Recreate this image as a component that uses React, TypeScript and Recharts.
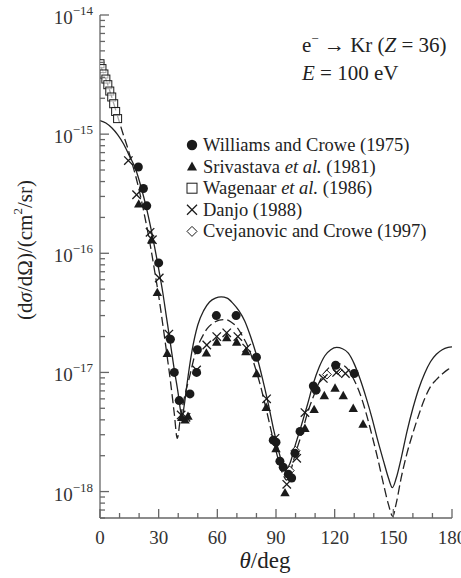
import React from 'react';
import { ComposedChart, Line, Scatter, XAxis, YAxis } from 'recharts';

// theory curves, theta in deg, cross section in cm^2/sr
const solidTheta = [0, 3, 6, 9, 12, 15, 18, 21, 24, 27, 30, 32, 34, 36, 38, 40, 41, 42, 43, 44.5, 47, 50, 53, 56, 59, 62, 65, 68, 71, 74, 77, 80, 83, 86, 89, 92, 94.5, 97, 100, 103, 106, 109, 112, 115, 118, 121, 124, 127, 130, 133, 136, 139, 142, 145, 147.5, 149.5, 151.5, 154, 157, 160, 163, 166, 169, 172, 175, 178, 180];
const solidValues = [1.3e-15, 1.24e-15, 1.13e-15, 9.9e-16, 8.3e-16, 6.6e-16, 5.2e-16, 3.6e-16, 2.3e-16, 1.35e-16, 7.4e-17, 4.8e-17, 2.9e-17, 1.75e-17, 1.05e-17, 6.6e-18, 5.0e-18, 4.2e-18, 5.2e-18, 8.0e-18, 1.5e-17, 2.5e-17, 3.3e-17, 3.9e-17, 4.2e-17, 4.3e-17, 4.2e-17, 3.8e-17, 3.3e-17, 2.7e-17, 2.0e-17, 1.4e-17, 9.0e-18, 5.5e-18, 3.2e-18, 2.0e-18, 1.5e-18, 1.7e-18, 2.5e-18, 3.6e-18, 5.3e-18, 8.0e-18, 1.1e-17, 1.38e-17, 1.55e-17, 1.62e-17, 1.58e-17, 1.45e-17, 1.18e-17, 8.8e-18, 6.2e-18, 4.2e-18, 2.7e-18, 1.8e-18, 1.3e-18, 1.08e-18, 1.3e-18, 1.9e-18, 3.2e-18, 5.0e-18, 7.3e-18, 9.8e-18, 1.23e-17, 1.42e-17, 1.55e-17, 1.62e-17, 1.64e-17];

const dashedTheta = [0, 2, 4, 6, 8, 10, 12, 14, 16, 18, 20, 22, 24, 26, 28, 30, 32, 34, 36, 38, 39.5, 41, 43, 46, 49, 52, 55, 58, 61, 64, 67, 70, 73, 76, 79, 82, 85, 88, 91, 93.5, 95.5, 97.5, 100, 103, 106, 109, 112, 115, 118, 121, 124, 127, 130, 133, 136, 139, 142, 145, 147.5, 149.7, 151.5, 154, 157, 160, 163, 166, 169, 172, 175, 178, 180];
const dashedValues = [3.8e-15, 3.2e-15, 2.6e-15, 2.05e-15, 1.6e-15, 1.25e-15, 9.8e-16, 7.8e-16, 6.0e-16, 4.6e-16, 3.4e-16, 2.4e-16, 1.65e-16, 1.1e-16, 7.0e-17, 4.4e-17, 2.6e-17, 1.5e-17, 8.5e-18, 4.5e-18, 2.8e-18, 4.0e-18, 6.0e-18, 9.5e-18, 1.5e-17, 1.95e-17, 2.35e-17, 2.6e-17, 2.75e-17, 2.78e-17, 2.65e-17, 2.4e-17, 2.0e-17, 1.6e-17, 1.15e-17, 7.8e-18, 4.9e-18, 3.0e-18, 1.9e-18, 1.4e-18, 1.25e-18, 1.5e-18, 2.1e-18, 3.0e-18, 4.5e-18, 6.2e-18, 8.2e-18, 1.0e-17, 1.13e-17, 1.19e-17, 1.16e-17, 1.05e-17, 8.6e-18, 6.6e-18, 4.6e-18, 3.0e-18, 1.9e-18, 1.15e-18, 7.8e-19, 6.2e-19, 8.0e-19, 1.3e-18, 2.1e-18, 3.1e-18, 4.4e-18, 6.0e-18, 7.6e-18, 8.7e-18, 9.7e-18, 1.06e-17, 1.1e-17];

// measurements
const williamsTheta = [19.6, 22.2, 23.9, 30, 36, 38, 40.5, 46, 49.4, 49.8, 59.5, 69.6, 80, 88.6, 90, 92, 93.7, 96.3, 98, 99.7, 102.3, 109.1, 110.5, 120.5, 130];
const williamsValues = [5.3e-16, 3.5e-16, 2.5e-16, 8.3e-17, 1.9e-17, 1.0e-17, 5.8e-18, 6.6e-18, 1.0e-17, 1.55e-17, 3.0e-17, 3.0e-17, 1.34e-17, 2.7e-18, 2.6e-18, 1.8e-18, 1.6e-18, 1.4e-18, 1.3e-18, 2.1e-18, 3.2e-18, 7.7e-18, 7.1e-18, 1.15e-17, 9.8e-18];

const srivastavaTheta = [19.8, 26.4, 29.3, 34.4, 41.8, 43.5, 45, 54.4, 59.7, 64.8, 69.9, 74.6, 80.1, 85, 90, 94.6, 104.8, 109.5, 114.7, 120.2, 124.4, 129.5, 134.5];
const srivastavaValues = [2.6e-16, 1.3e-16, 4.7e-17, 1.45e-17, 4.2e-18, 4.0e-18, 4.3e-18, 1.46e-17, 1.8e-17, 1.96e-17, 1.8e-17, 1.5e-17, 9.8e-18, 5.1e-18, 2.3e-18, 9.8e-19, 3.4e-18, 4.9e-18, 6.4e-18, 7.4e-18, 6.4e-18, 5.0e-18, 3.7e-18];

const wagenaarTheta = [0, 1, 2, 3, 4, 5, 6, 7, 8, 9];
const wagenaarValues = [3.9e-15, 3.55e-15, 3.2e-15, 2.9e-15, 2.6e-15, 2.3e-15, 2.05e-15, 1.8e-15, 1.55e-15, 1.35e-15];

const danjoTheta = [14.5, 18.7, 25.6, 26.8, 30.3, 35.2, 41.5, 44, 49.4, 54.6, 59.7, 64.8, 70.5, 75, 85.2, 89.5, 95.5, 100.6, 104.8, 114.2, 121, 125.5];
const danjoValues = [6.0e-16, 3.1e-16, 1.5e-16, 1.3e-16, 6.2e-17, 2.1e-17, 4.4e-18, 4.2e-18, 1.05e-17, 1.7e-17, 2.0e-17, 2.15e-17, 2.0e-17, 1.6e-17, 6.0e-18, 2.8e-18, 1.15e-18, 1.9e-18, 4.6e-18, 8.9e-18, 1.0e-17, 9.8e-18];

const cvejanovicTheta = [97, 100, 110, 116, 121.5];
const cvejanovicValues = [1.5e-18, 2.2e-18, 7.4e-18, 9.6e-18, 1.05e-17];

const xTicks = [0, 10, 20, 30, 40, 50, 60, 70, 80, 90, 100, 110, 120, 130, 140, 150, 160, 170, 180];
const xLabelled = [0, 30, 60, 90, 120, 150, 180];
const yDecades = [-19, -18, -17, -16, -15];
const yMantissas = [1, 2, 3, 4, 5, 6, 7, 8, 9];
const yMin = 6e-19;
const yMax = 1e-14;

const legendItems = ['williams', 'srivastava', 'wagenaar', 'danjo', 'cvejanovic'];

const AXIS = '#666';
const INK = '#1a1a1a';
const FONT = '"Liberation Serif", "DejaVu Serif", serif';

const pairs = (xs: number[], ys: number[]) => xs.map((x, i) => ({ x, y: ys[i] }));

const yTicks: number[] = [];
yDecades.forEach(e => {
  yMantissas.forEach(m => {
    const v = Number(`${m}e${e}`);
    if (v >= yMin && v < yMax) yTicks.push(v);
  });
});
yTicks.push(yMax);

const isDecade = (v: number) => Math.abs(Math.log10(v) - Math.round(Math.log10(v))) < 1e-6;

function BottomTick(props: any) {
  const { x, y, payload } = props;
  const major = payload.value % 30 === 0;
  return (
    <g>
      <line x1={x} x2={x} y1={y} y2={y - (major ? 9 : 5)} stroke={AXIS} strokeWidth={1.3} />
      {xLabelled.includes(payload.value) && (
        <text x={x} y={y + 26} textAnchor="middle" fontSize={19} fontFamily={FONT} fill="#333">
          {payload.value}
        </text>
      )}
    </g>
  );
}

function TopTick(props: any) {
  const { x, y, payload } = props;
  const major = payload.value % 30 === 0;
  return <line x1={x} x2={x} y1={y} y2={y + (major ? 9 : 5)} stroke={AXIS} strokeWidth={1.3} />;
}

function LeftTick(props: any) {
  const { x, y, payload } = props;
  const major = isDecade(payload.value);
  const exp = Math.round(Math.log10(payload.value));
  return (
    <g>
      <line x1={x} x2={x + (major ? 9 : 5)} y1={y} y2={y} stroke={AXIS} strokeWidth={1.3} />
      {major && (
        <text x={x - 7} y={y + 9} textAnchor="end" fontFamily={FONT} fill="#333">
          <tspan fontSize={19}>10</tspan>
          <tspan fontSize={13} dy={-9}>{`\u2212${-exp}`}</tspan>
        </text>
      )}
    </g>
  );
}

function RightTick(props: any) {
  const { x, y, payload } = props;
  const major = isDecade(payload.value);
  return <line x1={x} x2={x - (major ? 9 : 5)} y1={y} y2={y} stroke={AXIS} strokeWidth={1.3} />;
}

// markers (ms = marker half size; recharts passes its own "size")
function Dot({ cx, cy, ms = 4.5 }: any) {
  return <circle cx={cx} cy={cy} r={ms} fill={INK} />;
}
function Tri({ cx, cy, ms = 4.7 }: any) {
  return <polygon points={`${cx},${cy - ms} ${cx + ms},${cy + ms * 0.8} ${cx - ms},${cy + ms * 0.8}`} fill={INK} />;
}
function Sq({ cx, cy, ms = 4 }: any) {
  return <rect x={cx - ms} y={cy - ms} width={ms * 2} height={ms * 2} fill="#fff" fillOpacity={0.6} stroke={INK} strokeWidth={1} />;
}
function Cross({ cx, cy, ms = 4.2 }: any) {
  return (
    <g stroke={INK} strokeWidth={1.3}>
      <line x1={cx - ms} y1={cy - ms} x2={cx + ms} y2={cy + ms} />
      <line x1={cx - ms} y1={cy + ms} x2={cx + ms} y2={cy - ms} />
    </g>
  );
}
function Diamond({ cx, cy, ms = 4.5 }: any) {
  return <polygon points={`${cx},${cy - ms} ${cx + ms},${cy} ${cx},${cy + ms} ${cx - ms},${cy}`} fill="#fff" stroke={INK} strokeWidth={1} />;
}

const markerFor: Record<string, any> = {
  williams: Dot,
  srivastava: Tri,
  wagenaar: Sq,
  danjo: Cross,
  cvejanovic: Diamond,
};

function LegendLabel({ id }: { id: string }) {
  if (id === 'williams') return <>Williams and Crowe (1975)</>;
  if (id === 'srivastava') return <>Srivastava <tspan fontStyle="italic">et al.</tspan> (1981)</>;
  if (id === 'wagenaar') return <>Wagenaar <tspan fontStyle="italic">et al.</tspan> (1986)</>;
  if (id === 'danjo') return <>Danjo (1988)</>;
  return <>Cvejanovic and Crowe (1997)</>;
}

export default function App() {
  const solid = pairs(solidTheta, solidValues);
  const dashed = pairs(dashedTheta, dashedValues);

  return (
    <div style={{ position: 'absolute', left: 0, top: 0, width: 461, height: 578, background: '#fff', fontFamily: FONT }}>
      <ComposedChart width={461} height={578} margin={{ top: 15, right: 9, bottom: 0, left: 40 }}>
        <XAxis
          xAxisId="b"
          type="number"
          dataKey="x"
          domain={[0, 180]}
          ticks={xTicks}
          interval={0}
          allowDataOverflow
          height={60}
          tickSize={0}
          tickMargin={0}
          tick={<BottomTick />}
          axisLine={{ stroke: AXIS, strokeWidth: 1.3 }}
        />
        <XAxis
          xAxisId="t"
          orientation="top"
          type="number"
          dataKey="x"
          domain={[0, 180]}
          ticks={xTicks}
          interval={0}
          allowDataOverflow
          height={0}
          tickSize={0}
          tickMargin={0}
          tick={<TopTick />}
          axisLine={{ stroke: AXIS, strokeWidth: 1.3 }}
        />
        <YAxis
          yAxisId="l"
          dataKey="y"
          scale="log"
          type="number"
          domain={[yMin, yMax]}
          ticks={yTicks}
          interval={0}
          allowDataOverflow
          width={60}
          tickSize={0}
          tickMargin={0}
          tick={<LeftTick />}
          axisLine={{ stroke: AXIS, strokeWidth: 1.3 }}
        />
        <YAxis
          yAxisId="r"
          orientation="right"
          dataKey="y"
          scale="log"
          type="number"
          domain={[yMin, yMax]}
          ticks={yTicks}
          interval={0}
          allowDataOverflow
          width={0}
          tickSize={0}
          tickMargin={0}
          tick={<RightTick />}
          axisLine={{ stroke: AXIS, strokeWidth: 1.3 }}
        />

        <Line xAxisId="b" yAxisId="l" data={solid} dataKey="y" type="monotone" stroke="#222" strokeWidth={1.3} dot={false} activeDot={false} isAnimationActive={false} />
        <Line xAxisId="b" yAxisId="l" data={dashed} dataKey="y" type="monotone" stroke="#222" strokeWidth={1.3} strokeDasharray="9 4" dot={false} activeDot={false} isAnimationActive={false} />

        <Scatter xAxisId="b" yAxisId="l" data={pairs(wagenaarTheta, wagenaarValues)} shape={<Sq />} isAnimationActive={false} />
        <Scatter xAxisId="b" yAxisId="l" data={pairs(cvejanovicTheta, cvejanovicValues)} shape={<Diamond />} isAnimationActive={false} />
        <Scatter xAxisId="b" yAxisId="l" data={pairs(srivastavaTheta, srivastavaValues)} shape={<Tri />} isAnimationActive={false} />
        <Scatter xAxisId="b" yAxisId="l" data={pairs(danjoTheta, danjoValues)} shape={<Cross />} isAnimationActive={false} />
        <Scatter xAxisId="b" yAxisId="l" data={pairs(williamsTheta, williamsValues)} shape={<Dot />} isAnimationActive={false} />
      </ComposedChart>

      <svg width={461} height={578} style={{ position: 'absolute', left: 0, top: 0, pointerEvents: 'none' }} fontFamily={FONT}>
        <text x={27} y={250} transform="rotate(-90 27 250)" textAnchor="middle" fontSize={21} fill="#222" dominantBaseline="middle">
          (d<tspan fontStyle="italic">σ</tspan>/dΩ)/(cm<tspan fontSize={13} dy={-8}>2</tspan><tspan dy={8}>/sr)</tspan>
        </text>
        <text x={265} y={568} textAnchor="middle" fontSize={23} fill="#222">
          <tspan fontStyle="italic">θ</tspan>/deg
        </text>

        <text x={302} y={52} fontSize={21} fill="#222">
          e<tspan fontSize={13} dy={-9}>{'\u2212'}</tspan><tspan dy={9}> {'\u2192'} Kr (</tspan><tspan fontStyle="italic">Z</tspan> = 36)
        </text>
        <text x={302} y={80} fontSize={21} fill="#222">
          <tspan fontStyle="italic">E</tspan> = 100 eV
        </text>

        {legendItems.map((id, i) => {
          const cy = 145 + i * 21.6;
          const Marker = markerFor[id];
          return (
            <g key={id}>
              <Marker cx={192} cy={cy} ms={id === 'williams' ? 5.2 : 5} />
              <text x={203} y={cy + 6} fontSize={18.5} fill="#222">
                <LegendLabel id={id} />
              </text>
            </g>
          );
        })}
      </svg>
    </div>
  );
}
